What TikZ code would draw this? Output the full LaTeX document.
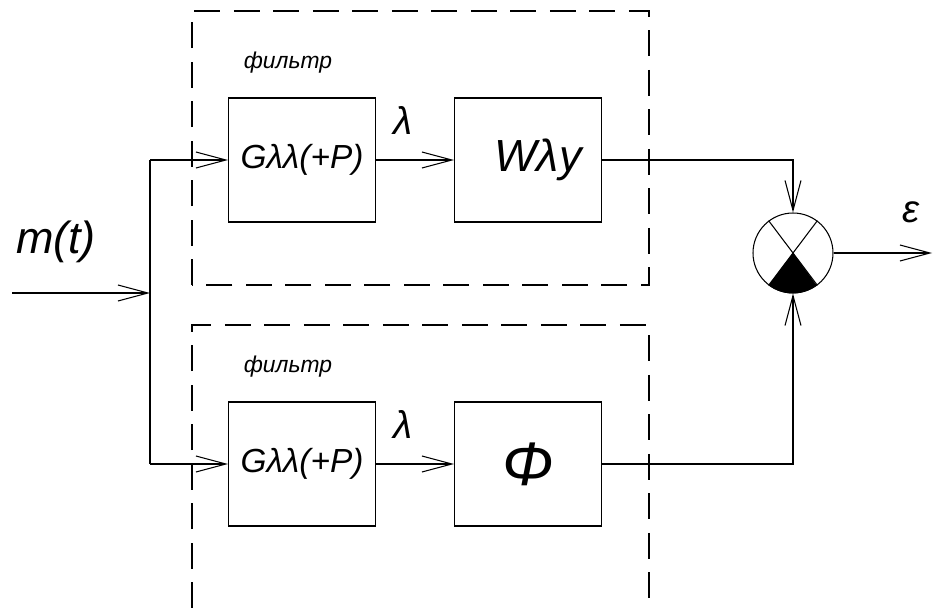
\documentclass[tikz,border=0pt]{standalone}
\usepackage{fontspec}
\setmainfont{Liberation Sans}
\usepackage{tikz}
\usetikzlibrary{arrows.meta}

\begin{document}
\begin{tikzpicture}[x=0.02cm, y=-0.02cm, line width=0.6pt,
    txt/.style={font=\itshape\fontsize{#1}{#1}\selectfont, inner sep=0pt},
    block/.style={draw, minimum width=2.94cm, minimum height=2.48cm, inner sep=0pt},
    frame/.style={draw, dash pattern=on 0.52cm off 0.27cm},
    flow/.style={-{Straight Barb[length=0.6cm, width=0.32cm]}}]
  \useasboundingbox (0,0) rectangle (934,608);
  \draw[frame] (192,285) -- (192,11) -- (649,11) -- (649,285) -- cycle;
  \draw[frame] (192,608) -- (192,325) -- (649,325) -- (649,608);
  \coordinate (in) at (12,293);
  \coordinate (split) at (150,293);
  \node[txt=25.6] (m) at (56,242) {m(t)};
  \foreach \r/\y in {a/160, b/464} {
    \node[block, txt=19] (g\r) at (302,\y) {Gλλ(+P)};
    \node[txt=22] (lam\r) at (403,\y-40) {λ};
    \node[txt=13] (flt\r) at (288,\y-97) {фильтр};
    \draw[flow] (split |- g\r.west) -- (g\r.west);
  }
  \node[block, txt=25.6] (w) at (528,160) {\hspace*{0.4cm}Wλy};
  \node[block, txt=35] (phi) at (528,464) {Φ};
  \node[draw, circle, minimum size=1.6cm, inner sep=0pt] (sum) at (793,253) {};
  \fill (sum.center) -- (sum.-127) arc[start angle=-127, end angle=-53, radius=0.8cm] -- cycle;
  \draw (sum.127) -- (sum.-53) (sum.53) -- (sum.-127);
  \coordinate (out) at (932,253);
  \node[txt=22] (eps) at (911,212) {ε};
  \draw[flow] (in) -- (split);
  \draw (split |- ga.west) -- (split |- gb.west);
  \draw[flow] (ga) -- (w);
  \draw[flow] (gb) -- (phi);
  \draw[flow] (w) -| (sum);
  \draw[flow] (phi) -| (sum);
  \draw[flow] (sum) -- (out);
\end{tikzpicture}
\end{document}
